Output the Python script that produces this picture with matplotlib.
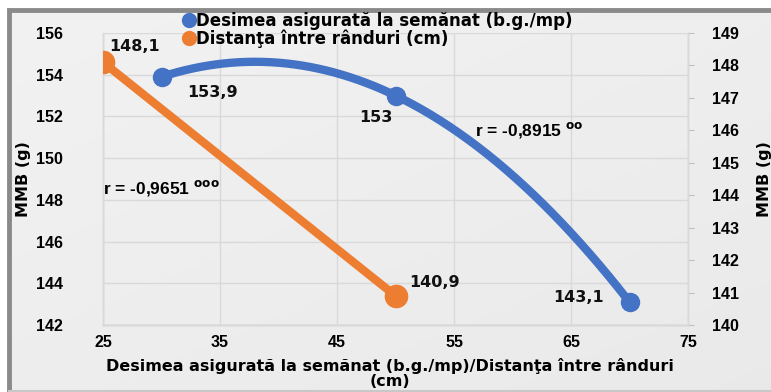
import numpy as np
import matplotlib
matplotlib.use("Agg")
import matplotlib.pyplot as plt
from matplotlib.lines import Line2D

plt.rcParams['font.family'] = ['Liberation Sans', 'DejaVu Sans']
WIDE = ['DejaVu Sans']

# ---------------- data ----------------
dens_x = [30, 50, 70]
dens_y = [153.9, 153.0, 143.1]
dens_lbl = ["153,9", "153", "143,1"]

dist_x = [25, 50]
dist_y = [148.1, 140.9]
dist_lbl = ["148,1", "140,9"]

x_ticks = [25, 35, 45, 55, 65, 75]
left_ticks = [142, 144, 146, 148, 150, 152, 154, 156]
right_ticks = list(range(140, 150))

series_names = ["Desimea asigurată la semănat (b.g./mp)", "Distanţa între rânduri (cm)"]
r_dens = "r = -0,8915"
r_dist = "r = -0,9651"
xlabel = "Desimea asigurată la semănat (b.g./mp)/Distanţa între rânduri\n(cm)"
ylabel = "MMB (g)"

BLUE = "#4472C4"
ORANGE = "#ED7D31"
GRID = "#d9d9d9"

W, H = 771, 392
fig = plt.figure(figsize=(W / 100, H / 100), dpi=100)
fig.patch.set_facecolor("white")

# background gradient + frame (dark on left and top)
bg = fig.add_axes([0, 0, 1, 1], zorder=-10)
bg.set_axis_off()
gx = np.linspace(0, 1, 200)
gy = np.linspace(0, 1, 100)
G = 0.945 - 0.035 * (np.add.outer(gy, gx) / 2)
bg.imshow(G, cmap="gray", vmin=0, vmax=1, extent=[8 / W, 1.2, 0, 1 - 9 / H],
          aspect="auto", origin="upper")
bg.set_xlim(0, 1)
bg.set_ylim(0, 1)
bg.plot([9 / W, 9 / W, 1.0], [0, 1 - 10 / H, 1 - 10 / H], color="#8a8a8a",
        linewidth=3.5, solid_joinstyle="miter")
bg.plot([9 / W, 1.0], [1.5 / H, 1.5 / H], color="#c8c8c8", linewidth=1.5)

L, R, T, B = 103, 688, 33, 325
ax = fig.add_axes([L / W, 1 - B / H, (R - L) / W, (B - T) / H])
ax.set_facecolor("none")
ax2 = ax.twinx()

ax.set_xlim(25, 75)
ax.set_ylim(142, 156)
ax2.set_ylim(140, 149)

ax.set_xticks(x_ticks)
ax.set_yticks(left_ticks)
ax2.set_yticks(right_ticks)
ax.grid(True, color=GRID, linewidth=1)
ax.set_axisbelow(True)

for a in (ax, ax2):
    for s in a.spines.values():
        s.set_color(GRID)
        s.set_linewidth(1)
ax.spines["bottom"].set_color("#bfbfbf")
ax.spines["top"].set_visible(False)
ax2.spines["top"].set_visible(False)

ax.tick_params(axis="x", length=0, pad=7, labelsize=11.5)
ax.tick_params(axis="y", length=0, pad=29, labelsize=11.5)
ax2.tick_params(axis="y", length=4, color="#bfbfbf", pad=13, labelsize=11.5)
for lab in ax.get_xticklabels() + ax.get_yticklabels() + ax2.get_yticklabels():
    lab.set_fontweight("bold")

ax.set_xlabel(xlabel, fontsize=11.5, fontweight="bold", linespacing=1.0, family=WIDE)
ax.xaxis.set_label_coords(0.49, -(373 - B) / (B - T))
ax.xaxis.label.set_va("center")
ax.set_ylabel(ylabel, fontsize=11.5, fontweight="bold", family=WIDE)
ax2.set_ylabel(ylabel, fontsize=11.5, fontweight="bold", family=WIDE)
ax.yaxis.set_label_coords((31 - L) / (R - L), 0.5)
ax2.yaxis.set_label_coords((757 - L) / (R - L), 0.5)

# blue series: smooth curve through the points (quadratic through 3 points)
coef = np.polyfit(dens_x, dens_y, 2)
xs = np.linspace(min(dens_x), max(dens_x), 300)
ax.plot(xs, np.polyval(coef, xs), color=BLUE, linewidth=6, solid_capstyle="round", zorder=3)
ax.plot(dens_x, dens_y, "o", color=BLUE, markersize=13, zorder=4)

# orange series on right axis
ax2.plot(dist_x, dist_y, color=ORANGE, linewidth=6, solid_capstyle="round", zorder=3)
ax2.plot(dist_x, dist_y, "o", color=ORANGE, markersize=16, zorder=4)

lblkw = dict(textcoords="offset points", ha="center", va="center",
             fontsize=11.5, fontweight="bold", color="#111111", family=WIDE)
dens_off = [(37, -11), (-14, -16), (-37, 3)]
for x, y, t, o in zip(dens_x, dens_y, dens_lbl, dens_off):
    ax.annotate(t, (x, y), xytext=o, **lblkw)
dist_off = [(23, 11), (28, 9.5)]
for x, y, t, o in zip(dist_x, dist_y, dist_lbl, dist_off):
    ax2.annotate(t, (x, y), xytext=o, **lblkw)

# correlation notes
fig.text(103 / W, 1 - 188 / H, r_dist + r" $^{\mathbf{ooo}}$", fontsize=12.5,
         fontweight="bold", va="center", ha="left")
fig.text(475 / W, 1 - 130 / H, r_dens + r" $^{\mathbf{oo}}$", fontsize=12.5,
         fontweight="bold", va="center", ha="left")

# legend
handles = [Line2D([], [], marker="o", linestyle="none", color=BLUE, markersize=10),
           Line2D([], [], marker="o", linestyle="none", color=ORANGE, markersize=10)]
leg = fig.legend(handles, series_names, loc="center left",
                 bbox_to_anchor=(184 / W, 1 - 30 / H), frameon=False,
                 handlelength=0.6, handletextpad=0.1, labelspacing=-0.05,
                 prop=dict(size=12, weight="bold", family=WIDE),
                 borderaxespad=0, borderpad=0)

fig.savefig("out.png", dpi=100)
